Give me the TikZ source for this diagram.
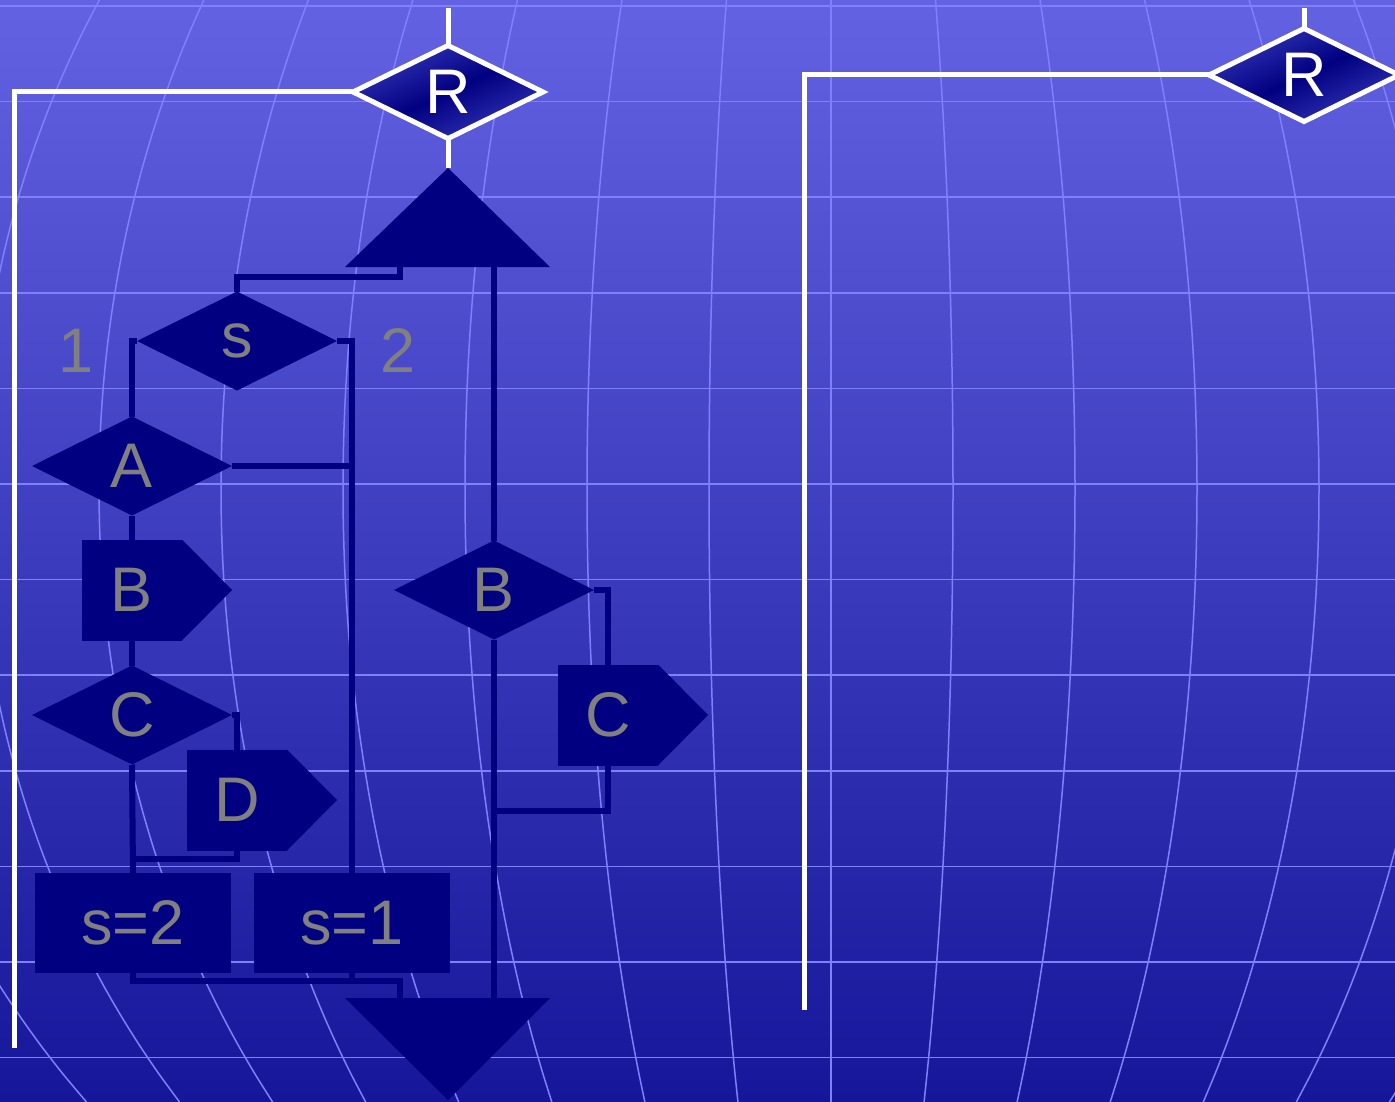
\documentclass[tikz,border=0pt]{standalone}
\usepackage{fontspec}
\setmainfont{Liberation Sans}
\usetikzlibrary{shapes.geometric,calc}

\definecolor{bgtop}{HTML}{6262E2}
\definecolor{bgbot}{HTML}{16169A}
\definecolor{gridc}{HTML}{8080FF}
\definecolor{chart}{HTML}{000080}
\definecolor{label}{HTML}{808080}
\definecolor{rlight}{HTML}{3535BA}

\begin{document}
\begin{tikzpicture}[
  x=1pt, y=-1pt,
  every node/.style={inner sep=0pt, outer sep=0pt, font=\fontsize{63}{70}\selectfont},
  cond/.style={diamond, fill=chart, text=label, minimum width=200pt, minimum height=99pt},
  block/.style={rectangle, fill=chart, text=label, minimum width=100pt, minimum height=101pt},
  assign/.style={rectangle, fill=chart, text=label, minimum width=196pt, minimum height=100pt},
  rtest/.style={diamond, draw=white, line width=5pt, top color=rlight, bottom color=rlight,
    middle color=chart, shading angle=25, text=white, minimum width=190pt, minimum height=93pt},
  link/.style={chart, line width=6pt},
  wire/.style={white, line width=5pt},
  gridline/.style={gridc, line width=1.5pt}
]

  % Background
  \useasboundingbox (0,0) rectangle (1395,1102);
  \shade[top color=bgtop, bottom color=bgbot] (0,0) rectangle (1395,1102);
  \begin{scope}
    \clip (0,0) rectangle (1395,1102);
    \foreach \i in {0,...,11}
      \draw[gridline] (0,6+95.6*\i) -- (1395,6+95.6*\i);
    \foreach \k in {-9,...,6}
      \draw[gridline] plot[variable=\t, domain=0:1102, samples=40, smooth]
        ({831+(\k)*122*sqrt(1-((\t-489)/948)*((\t-489)/948))}, \t);
  \end{scope}

  % Tests R
  \node[rtest] (r1) at (448,92) {R};
  \node[rtest] (r2) at (1304,75) {R};
  \coordinate (r1 in) at (448,8);
  \coordinate (r1 out) at (14,1048);
  \coordinate (r2 in) at (1304,8);
  \coordinate (r2 out) at (804,1010);

  % Open and close triangles
  \fill[chart] (448,168) -- (550,267) -- (345,267) -- cycle;
  \fill[chart] (345,998) -- (550,998) -- (448,1100) -- cycle;
  \coordinate (open) at (448,168);
  \coordinate (upL) at (400,267);
  \coordinate (upR) at (494,267);
  \coordinate (dnL) at (400,998);
  \coordinate (dnR) at (494,998);

  % Left branch
  \node[cond] (s) at (237,341) {s};
  \node[text=label] (one) at (76,351) {1};
  \node[text=label] (two) at (398,351) {2};
  \node[cond] (a) at (132,466) {A};
  \node[block] (b1) at (132,590) {B};
  \node[cond] (c1) at (132,715) {C};
  \node[block] (d) at (237,800) {D};
  \node[assign] (s2) at (133,923) {s=2};
  \node[assign] (s1) at (352,923) {s=1};
  \coordinate (dj) at (132,859);

  % Right branch
  \node[cond] (b2) at (494,590) {B};
  \node[block] (c2) at (608,715) {C};
  \coordinate (cj) at (494,811);

  % Pointed ends
  \foreach \n in {b1,d,c2}
    \fill[chart] (\n.north east) -- ($(\n.east)+(50,0)$) -- (\n.south east) -- cycle;

  % White lines
  \draw[wire] (r1 in) -- (r1.north);
  \draw[wire] (r1.south) -- (open);
  \draw[wire] (r1.west) -| (r1 out);
  \draw[wire] (r2 in) -- (r2.north);
  \draw[wire] (r2.west) -| (r2 out);

  % Links
  \draw[link] (upL) -- ++(0,10) -| (s.north);
  \draw[link] (s.west) -| (a.north);
  \draw[link] (s.east) -| (s1.north);
  \draw[link] (a.east) -- (a.east -| s1.north);
  \draw[link] (a.south) -- (b1.north);
  \draw[link] (b1.south) -- (c1.north);
  \draw[link] (c1.east) -| (d.north);
  \draw[link] (c1.south) -- (s2.north);
  \draw[link] (d.south) |- (dj);
  \draw[link] (s2.south) -- ++(0,8) -| (dnL);
  \draw[link] (s1.south) -- ++(0,8);
  \draw[link] (upR) -- (b2.north);
  \draw[link] (b2.east) -| (c2.north);
  \draw[link] (c2.south) |- (cj);
  \draw[link] (b2.south) -- (dnR);

\end{tikzpicture}
\end{document}
